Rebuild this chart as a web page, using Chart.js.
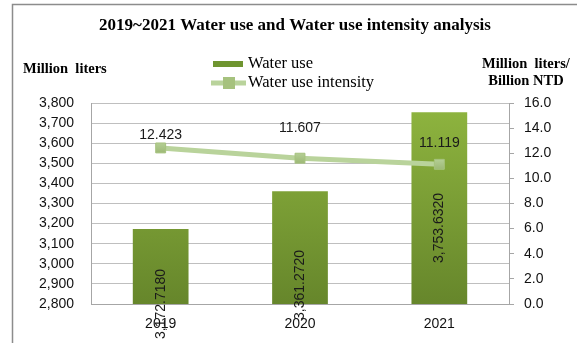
<!DOCTYPE html>
<html>
<head>
<meta charset="utf-8">
<script src="https://cdn.jsdelivr.net/npm/chart.js@4/dist/chart.umd.min.js"></script>
<style>
  html, body { margin: 0; padding: 0; background: #fff; }
  #wrap { width: 577px; height: 343px; position: relative; }
</style>
</head>
<body>
<div id="wrap"><canvas id="water-chart"></canvas></div>
<script>
// years and values
const years = ['2019', '2020', '2021'];
const waterUse = [3172.7180, 3361.2720, 3753.6320];     // million liters
const waterIntensity = [12.423, 11.607, 11.119];       // million liters / billion NTD
const leftTicks = [2800, 3800, 100];
const rightTicks = [0, 16, 2];

const fmtUse = v => v.toLocaleString('en-US', { minimumFractionDigits: 4, maximumFractionDigits: 4 });
const fmtInt = v => v.toFixed(3);

// label nudges (px) — value labels sit where the office chart placed them
const useLabelLift = [0, 19, 76];
const intLabelLift = [13, 30, 21];

const tickFont = { family: 'Liberation Sans', size: 14 };

// frame, title, axis captions and legend
const decorations = {
  id: 'decorations',
  beforeDraw(chart) {
    const ctx = chart.ctx;
    ctx.save();
    ctx.fillStyle = '#fff';
    ctx.fillRect(0, 0, chart.width, chart.height);
    ctx.strokeStyle = '#8c8c8c';
    ctx.lineWidth = 1.5;
    ctx.beginPath();
    ctx.moveTo(12.5, chart.height);
    ctx.lineTo(12.5, 4.5);
    ctx.lineTo(chart.width, 4.5);
    ctx.stroke();
    ctx.restore();
  },
  afterDraw(chart) {
    const ctx = chart.ctx;
    ctx.save();
    ctx.fillStyle = '#000';
    ctx.textBaseline = 'middle';
    ctx.font = 'bold 17px "Liberation Serif"';
    ctx.textAlign = 'center';
    ctx.fillText('2019~2021 Water use and Water use intensity analysis', 295, 26);

    ctx.font = 'bold 14.5px "Liberation Serif"';
    ctx.textAlign = 'left';
    ctx.fillText('Million  liters', 23, 69);
    ctx.textAlign = 'center';
    ctx.fillText('Million  liters/', 526, 64);
    ctx.fillText('Billion NTD', 526, 81);

    // legend
    ctx.fillStyle = '#6f9530';
    ctx.fillRect(213, 61, 30, 6);
    ctx.strokeStyle = '#b9d39b';
    ctx.lineWidth = 5;
    ctx.beginPath();
    ctx.moveTo(211, 83);
    ctx.lineTo(246, 83);
    ctx.stroke();
    ctx.fillStyle = '#a6c27e';
    ctx.fillRect(223, 77, 12, 12);

    ctx.fillStyle = '#000';
    ctx.font = '16.5px "Liberation Serif"';
    ctx.textAlign = 'left';
    ctx.fillText('Water use', 248, 64);
    ctx.fillText('Water use intensity', 248, 83);
    ctx.restore();
  }
};

// value labels for bars (rotated) and line points
const valueLabels = {
  id: 'valueLabels',
  afterDatasetsDraw(chart) {
    const ctx = chart.ctx;
    const bottom = chart.chartArea.bottom;
    ctx.save();
    ctx.fillStyle = '#1a1a1a';
    ctx.font = '14px "Liberation Sans"';
    ctx.textAlign = 'center';
    ctx.textBaseline = 'middle';

    chart.getDatasetMeta(1).data.forEach((bar, i) => {
      ctx.save();
      ctx.translate(bar.x, bottom - useLabelLift[i]);
      ctx.rotate(-Math.PI / 2);
      ctx.fillText(fmtUse(waterUse[i]), 0, 0);
      ctx.restore();
    });

    chart.getDatasetMeta(0).data.forEach((pt, i) => {
      ctx.fillText(fmtInt(waterIntensity[i]), pt.x, pt.y - intLabelLift[i]);
    });
    ctx.restore();
  }
};

function barGradient(context) {
  const area = context.chart.chartArea;
  if (!area) return '#7ea236';
  const g = context.chart.ctx.createLinearGradient(0, area.top, 0, area.bottom);
  g.addColorStop(0, '#8fb53f');
  g.addColorStop(1, '#66862b');
  return g;
}

function markerGradient(context) {
  const el = context.element;
  if (!el || el.y === undefined) return '#a6c27e';
  const g = context.chart.ctx.createLinearGradient(0, el.y - 7, 0, el.y + 7);
  g.addColorStop(0, '#b9d39b');
  g.addColorStop(1, '#98b46f');
  return g;
}

const config = {
  type: 'bar',
  data: {
    labels: years,
    datasets: [
      {
        type: 'line',
        label: 'Water use intensity',
        data: waterIntensity,
        yAxisID: 'y1',
        order: 0,
        borderColor: '#b9d39b',
        borderWidth: 5,
        tension: 0,
        pointStyle: 'rect',
        pointRadius: 7,
        pointBackgroundColor: markerGradient,
        pointBorderColor: '#a6c27e',
        pointBorderWidth: 1
      },
      {
        label: 'Water use',
        data: waterUse,
        yAxisID: 'y',
        order: 1,
        backgroundColor: barGradient,
        categoryPercentage: 1,
        barPercentage: 0.4
      }
    ]
  },
  options: {
    responsive: true,
    maintainAspectRatio: false,
    animation: false,
    layout: { padding: { top: 103, left: 0, right: 0, bottom: 0 } },
    plugins: {
      legend: { display: false },
      title: { display: false },
      tooltip: { enabled: false }
    },
    scales: {
      x: {
        grid: { display: false, drawTicks: false },
        border: { color: '#a6a6a6' },
        ticks: { color: '#111', font: tickFont, padding: 12 },
        afterFit(scale) { scale.height = 39; }
      },
      y: {
        position: 'left',
        min: leftTicks[0],
        max: leftTicks[1],
        grid: { color: '#bfbfbf', drawTicks: false },
        border: { color: '#a6a6a6' },
        ticks: {
          stepSize: leftTicks[2],
          padding: 17,
          color: '#111',
          font: tickFont,
          callback: v => v.toLocaleString('en-US')
        },
        afterFit(scale) { scale.width = 91; }
      },
      y1: {
        position: 'right',
        min: rightTicks[0],
        max: rightTicks[1],
        grid: { drawOnChartArea: false, color: '#a6a6a6', tickLength: 5 },
        border: { color: '#a6a6a6' },
        ticks: {
          stepSize: rightTicks[2],
          padding: 10,
          color: '#111',
          font: tickFont,
          callback: v => v.toFixed(1)
        },
        afterFit(scale) { scale.width = 68; }
      }
    }
  },
  plugins: [decorations, valueLabels]
};

window.addEventListener('load', () => {
  new Chart(document.getElementById('water-chart'), config);
});
</script>
</body>
</html>
